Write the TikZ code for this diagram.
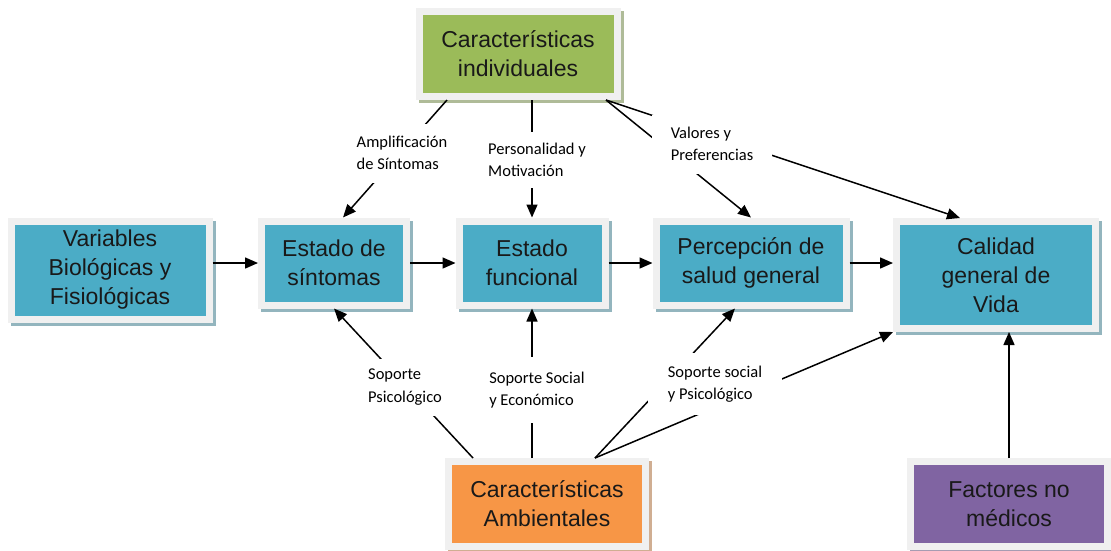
\documentclass[tikz,border=0pt]{standalone}
\usepackage{fontspec}
\setmainfont{Liberation Sans}
\newfontfamily\lblfont{Carlito}
\usetikzlibrary{arrows.meta,shadows}

\definecolor{azul}{HTML}{4BACC6}
\definecolor{verde}{HTML}{9BBB59}
\definecolor{naranja}{HTML}{F79646}
\definecolor{morado}{HTML}{8064A2}
\definecolor{marco}{HTML}{F0F0F0}

\tikzset{
  caja/.style={fill=#1, draw=marco, line width=7pt, inner sep=0pt, align=center,
    text=black!90, font=\fontsize{23}{29}\selectfont,
    drop shadow={shadow xshift=3pt, shadow yshift=-3pt, opacity=1,
      fill=#1!50!gray!70!white, draw=#1!50!gray!70!white, line width=7pt}},
  etiq/.style={fill=white, inner sep=0pt, align=left,
    font=\lblfont\fontsize{16.5}{22.5}\selectfont},
  flecha/.style={line width=1.5pt, -{Triangle[length=13pt,width=11pt]}}
}

\begin{document}
\begin{tikzpicture}[x=1pt,y=-1pt]
\useasboundingbox (0,0) rectangle (1111,550);

\node[caja=azul, minimum width=198pt, minimum height=98pt] (var) at (110,270) {Variables\\Biológicas y\\Fisiológicas};
\node[caja=azul, minimum width=145pt, minimum height=84pt] (sin) at (334,263) {Estado de\\síntomas};
\node[caja=azul, minimum width=146pt, minimum height=84pt] (fun) at (532,263) {Estado\\funcional};
\node[caja=azul, minimum width=190pt, minimum height=84pt] (per) at (751,263) {Percepción de\\salud general};
\node[caja=azul, minimum width=199pt, minimum height=107pt] (cal) at (996,275) {Calidad\\general de\\Vida};
\node[caja=verde, minimum width=198pt, minimum height=85pt] (ind) at (518,54) {Características\\individuales};
\node[caja=naranja, minimum width=197pt, minimum height=85pt] (amb) at (547,504) {Características\\Ambientales};
\node[caja=morado, minimum width=197pt, minimum height=85pt] (fac) at (1009,504) {Factores no\\médicos};

% cadena principal
\draw[flecha] (var.east |- sin.west) -- (sin.west);
\draw[flecha] (sin.east) -- (fun.west);
\draw[flecha] (fun.east) -- (per.west);
\draw[flecha] (per.east) -- (per.east -| cal.west);

% caracteristicas individuales
\draw[flecha] ([xshift=-71pt]ind.south) -- ([xshift=9pt]sin.north);
\draw[flecha] (ind.south -| fun.north) -- (fun.north);
\draw[flecha] ([xshift=88pt]ind.south) -- (per.north);
\draw[flecha] ([xshift=88pt]ind.south) -- ([xshift=-36pt]cal.north);

% caracteristicas ambientales
\draw[flecha] ([xshift=-74pt]amb.north) -- (sin.south);
\draw[flecha] (amb.north -| fun.south) -- (fun.south);
\draw[flecha] ([xshift=48pt]amb.north) -- ([xshift=-16pt]per.south);
\draw[flecha] ([xshift=48pt]amb.north) -- (cal.south west);

\draw[flecha] (fac.north) -- (fac.north |- cal.south);

% etiquetas
\node[etiq, minimum width=105pt, minimum height=59pt] (amp) at (402,153) {Amplificación\\de Síntomas};
\node[etiq, minimum width=100pt, minimum height=56pt] (pers) at (537,160) {Personalidad y\\Motivación};
\node[etiq, minimum width=120pt, minimum height=59pt] (val) at (712,144) {Valores y\\Preferencias};
\node[etiq, minimum width=90pt, minimum height=57pt] (sopp) at (405,387) {Soporte\\Psicológico};
\node[etiq, minimum width=100pt, minimum height=66pt] (sope) at (537,390) {Soporte Social\\y Económico};
\node[etiq, minimum width=134pt, minimum height=62pt] (sops) at (715,384) {Soporte social\\y Psicológico};
\end{tikzpicture}
\end{document}
